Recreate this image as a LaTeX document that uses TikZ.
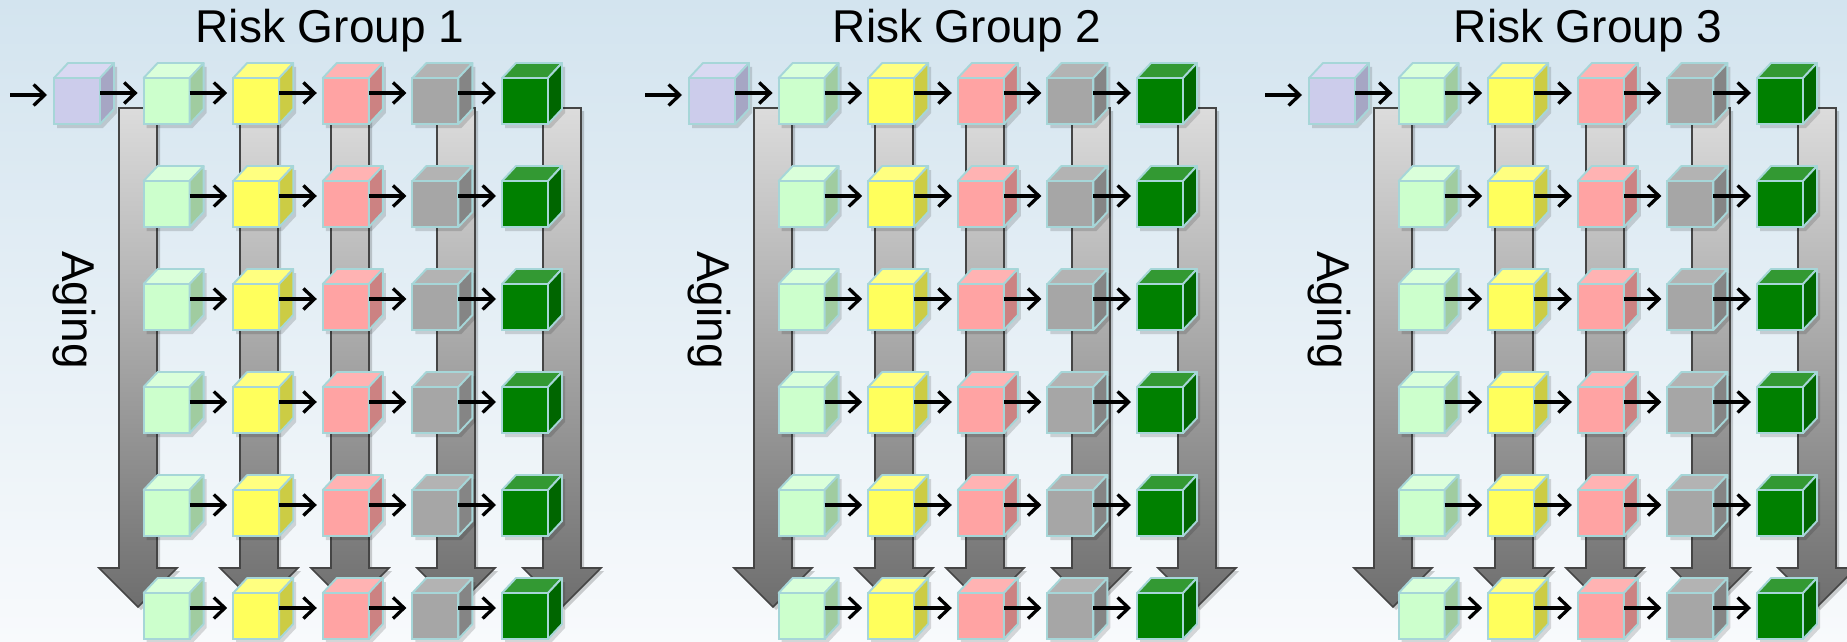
\documentclass[tikz,border=0pt]{standalone}
\usepackage{fontspec}
\setmainfont{Liberation Sans}
\usetikzlibrary{arrows.meta}
\definecolor{bgtop}{HTML}{D3E4EF}
\definecolor{bgbot}{HTML}{F8FAFC}
\definecolor{cubeedge}{HTML}{A6D6D8}
\definecolor{agetop}{HTML}{DCDCDC}
\definecolor{agebot}{HTML}{6E6E6E}
\definecolor{ageedge}{HTML}{454545}
% purple
\definecolor{PF}{HTML}{CCCCEB}\definecolor{PT}{HTML}{D9D9F2}\definecolor{PS}{HTML}{A6A6C4}
% light green
\definecolor{GF}{HTML}{CCFFCC}\definecolor{GT}{HTML}{DAFFDA}\definecolor{GS}{HTML}{A0CCA0}
% yellow
\definecolor{YF}{HTML}{FFFF5C}\definecolor{YT}{HTML}{FFFF80}\definecolor{YS}{HTML}{CCCC44}
% pink
\definecolor{RF}{HTML}{FFA3A3}\definecolor{RT}{HTML}{FFB3B3}\definecolor{RS}{HTML}{CC8282}
% gray
\definecolor{KF}{HTML}{A6A6A6}\definecolor{KT}{HTML}{B3B3B3}\definecolor{KS}{HTML}{858585}
% dark green
\definecolor{DF}{HTML}{008000}\definecolor{DT}{HTML}{339933}\definecolor{DS}{HTML}{006600}
\tikzset{
  cubefront/.style={draw=cubeedge, line width=1.9pt, minimum width=46pt, minimum height=46pt, inner sep=0pt, outer sep=0pt},
  cubeface/.style={draw=cubeedge, line width=1.9pt, line join=round},
  cubeshadow/.style={fill=black, opacity=.14},
  flow/.style={line width=3.3pt, -{Straight Barb[length=11pt,width=21pt]}, shorten >=6pt},
  agingarrow/.style={top color=agetop, bottom color=agebot, draw=ageedge, line width=1.6pt},
  ageshadow/.style={fill=black, opacity=.18},
  grouptitle/.style={font=\fontsize{46}{50}\selectfont, anchor=base, inner sep=0pt},
  agingtext/.style={font=\fontsize{46}{50}\selectfont, rotate=-90, inner sep=0pt},
}
\newcommand\mkcube[4]{% name, left x, top y, colour prefix
  \fill[cubeshadow] (#2+3,#3+4) -- (#2+3,#3+50) -- (#2+49,#3+50) -- (#2+63,#3+35) -- (#2+63,#3-11) -- (#2+17,#3-11) -- cycle;
  \node[cubefront, fill=#4F] (#1) at (#2+23,#3+23) {};
  \filldraw[cubeface, fill=#4T] (#1.north west) -- ++(14,-15) -- ++(46,0) -- (#1.north east) -- cycle;
  \filldraw[cubeface, fill=#4S] (#1.north east) -- ++(14,-15) -- ++(0,46) -- (#1.south east) -- cycle;
}
\newcommand\agearrow[1]{% left x of shaft
  \fill[ageshadow] (#1+3,111) -- (#1+41,111) -- (#1+41,571) -- (#1+61,571) -- (#1+22,610) -- (#1-17,571) -- (#1+3,571) -- cycle;
  \path[agingarrow] (#1,108) -- (#1+38,108) -- (#1+38,568) -- (#1+58,568) -- (#1+19,607) -- (#1-20,568) -- (#1,568) -- cycle;
}
\begin{document}
\begin{tikzpicture}[x=1pt,y=-1pt]
\useasboundingbox (0,0) rectangle (1847,642);
\shade[top color=bgtop, bottom color=bgbot] (0,0) rectangle (1847,642);
% aging arrows
\foreach \gx in {0,635,1255} {
  \foreach \l in {119,240,331,437,543} {
    \agearrow{\gx+\l}
  }
}
% cubes
\foreach \g/\gx in {1/0,2/635,3/1255} {
  \mkcube{g\g-0-0}{\gx+54}{78}{P}
  \foreach \r in {0,...,5} {
    \foreach \c/\cc in {1/G,2/Y,3/R,4/K,5/D} {
      \mkcube{g\g-\r-\c}{\gx+54+\c*89.6}{78+\r*103}{\cc}
    }
  }
}
% flow arrows
\foreach \g/\gx in {1/0,2/635,3/1255} {
  \coordinate (g\g-in) at (\gx+10,95);
  \draw[flow, shorten >=7pt] (g\g-in) -- ([yshift=6pt]g\g-0-0.west);
  \draw[flow] ([yshift=8pt]g\g-0-0.east) -- ([yshift=8pt]g\g-0-1.west);
  \foreach \r in {0,...,5} {
    \foreach \c [evaluate=\c as \n using int(\c+1)] in {1,...,4} {
      \draw[flow] ([yshift=8pt]g\g-\r-\c.east) -- ([yshift=8pt]g\g-\r-\n.west);
    }
  }
}
% texts
\foreach \g/\gx/\tx in {1/0/330,2/635/967,3/1255/1588} {
  \node[grouptitle] (t\g) at (\tx,43) {Risk Group \g};
  \node[agingtext] (a\g) at (\gx+74,310) {Aging};
}
\end{tikzpicture}
\end{document}
